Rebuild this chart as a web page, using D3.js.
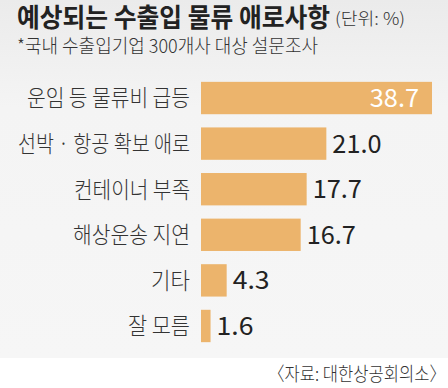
<!DOCTYPE html>
<meta charset="utf-8">
<style>
body { margin: 0; background: #fff; }
svg { display: block; }
text { font-family: "Noto Sans CJK KR", "Noto Sans", sans-serif; }
</style>
<body>
<script src="https://d3js.org/d3.v7.min.js"></script>
<script>

var categories = ["운임 등 물류비 급등", "선박 · 항공 확보 애로", "컨테이너 부족", "해상운송 지연", "기타", "잘 모름"];
var values = [38.7, 21.0, 17.7, 16.7, 4.3, 1.6];
var valueLabels = ["38.7", "21.0", "17.7", "16.7", "4.3", "1.6"];

var width = 448,
    height = 388;

var svg = d3.select("body")
    .append("svg")
    .attr("width", width)
    .attr("height", height);

var grad = svg.append("defs").append("linearGradient")
    .attr("id", "bg")
    .attr("x1", 0).attr("y1", 0).attr("x2", 0).attr("y2", 1);
grad.append("stop").attr("offset", "0%").attr("stop-color", "#ebebeb");
grad.append("stop").attr("offset", "30%").attr("stop-color", "#f4f4f4");
grad.append("stop").attr("offset", "100%").attr("stop-color", "#f6f6f6");

svg.append("rect")
    .attr("width", width)
    .attr("height", 358)
    .attr("fill", "url(#bg)");

// title
svg.append("text")
    .attr("x", 17).attr("y", 27)
    .attr("font-size", 26)
    .attr("font-weight", "bold")
    .attr("fill", "#222")
    .attr("textLength", 313)
    .attr("lengthAdjust", "spacingAndGlyphs")
    .text("예상되는 수출입 물류 애로사항");

svg.append("text")
    .attr("x", 335).attr("y", 25)
    .attr("font-size", 17)
    .attr("font-weight", 300)
    .attr("fill", "#333")
    .attr("textLength", 70)
    .attr("lengthAdjust", "spacingAndGlyphs")
    .text("(단위: %)");

svg.append("text")
    .attr("x", 17).attr("y", 53)
    .attr("font-size", 19)
    .attr("font-weight", 300)
    .attr("fill", "#333")
    .attr("textLength", 301)
    .attr("lengthAdjust", "spacingAndGlyphs")
    .text("*국내 수출입기업 300개사 대상 설문조사");

var x = d3.scaleLinear()
    .domain([0, 38.7])
    .range([201, 432]);

var y = d3.scaleBand()
    .domain(categories)
    .range([75, 349])
    .paddingInner(0.29)
    .paddingOuter(0.15);

var labelWidths = [163, 172, 116, 117, 39, 62];

svg.append("g")
    .selectAll("rect")
    .data(values)
    .enter().append("rect")
      .attr("x", x(0))
      .attr("y", function(d, i) { return y(categories[i]); })
      .attr("width", function(d) { return x(d) - x(0); })
      .attr("height", y.bandwidth())
      .attr("fill", "#ecb46c");

svg.append("g")
    .selectAll("text")
    .data(categories)
    .enter().append("text")
      .attr("x", 190)
      .attr("y", function(d) { return y(d) + y.bandwidth() / 2; })
      .attr("dy", "0.37em")
      .attr("text-anchor", "end")
      .attr("font-size", 22.5)
      .attr("font-weight", 300)
      .attr("fill", "#333")
      .attr("textLength", function(d, i) { return labelWidths[i]; })
      .attr("lengthAdjust", "spacingAndGlyphs")
      .text(function(d) { return d; });

svg.append("g")
    .selectAll("text")
    .data(values)
    .enter().append("text")
      .attr("x", function(d, i) { return i === 0 ? x(d) - 13 : x(d) + 6; })
      .attr("y", function(d, i) { return y(categories[i]) + y.bandwidth() / 2; })
      .attr("dy", "0.36em")
      .attr("text-anchor", function(d, i) { return i === 0 ? "end" : "start"; })
      .attr("font-size", 25)
      .attr("fill", function(d, i) { return i === 0 ? "#fff" : "#222"; })
      .attr("textLength", function(d, i) { return valueLabels[i].length * 12.3; })
      .attr("lengthAdjust", "spacingAndGlyphs")
      .text(function(d, i) { return valueLabels[i]; });

svg.append("text")
    .attr("x", 446).attr("y", 381)
    .attr("text-anchor", "end")
    .attr("font-size", 19)
    .attr("font-weight", 300)
    .attr("fill", "#333")
    .attr("textLength", 178)
    .attr("lengthAdjust", "spacingAndGlyphs")
    .text("〈자료: 대한상공회의소〉");

</script>
</body>
